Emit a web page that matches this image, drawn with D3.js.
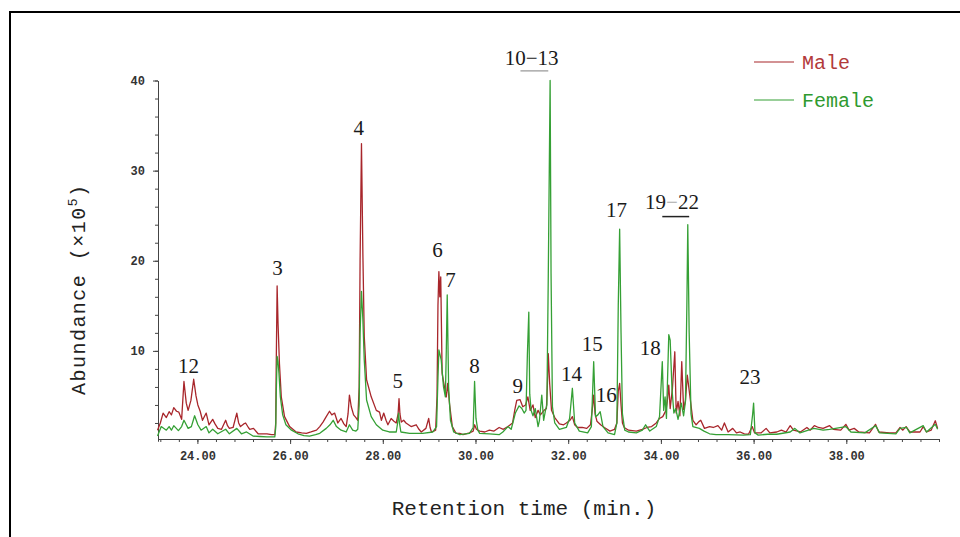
<!DOCTYPE html>
<html>
<head>
<meta charset="utf-8">
<script src="https://cdnjs.cloudflare.com/ajax/libs/d3/7.8.5/d3.min.js"></script>
<style>
  body { margin: 0; background: #fff; }
  svg { display: block; }
</style>
</head>
<body>
<script>
// retention time (min.) and abundance (x10^5)
var maleTrace = [[23.14,1.2],[23.2,2.0],[23.26,3.1],[23.33,2.6],[23.39,3.25],[23.44,2.9],[23.49,3.7],[23.55,3.3],[23.6,3.2],[23.66,2.4],[23.71,6.6],[23.76,4.2],[23.8,3.4],[23.86,4.5],[23.92,6.85],[23.97,5.0],[24.01,4.0],[24.06,3.3],[24.11,2.3],[24.19,3.1],[24.25,1.8],[24.33,2.4],[24.38,1.9],[24.44,1.4],[24.52,1.3],[24.61,2.3],[24.65,1.7],[24.69,1.4],[24.77,1.5],[24.85,3.1],[24.89,2.0],[24.93,1.6],[25.0,1.9],[25.04,2.0],[25.1,1.5],[25.13,1.3],[25.21,1.4],[25.31,0.8],[25.4,0.8],[25.5,0.8],[25.6,0.7],[25.67,0.7],[25.69,2.0],[25.7,8.0],[25.72,17.2],[25.74,13.0],[25.77,8.6],[25.81,4.9],[25.88,2.7],[25.99,1.6],[26.13,1.0],[26.25,0.9],[26.35,0.85],[26.45,1.0],[26.57,1.2],[26.64,1.6],[26.71,2.1],[26.78,2.7],[26.85,3.3],[26.9,2.9],[26.96,3.1],[27.03,2.0],[27.1,2.5],[27.16,1.9],[27.21,1.6],[27.25,3.0],[27.28,5.1],[27.32,3.8],[27.37,2.9],[27.42,2.6],[27.46,2.3],[27.49,6.0],[27.51,20.0],[27.54,33.0],[27.57,20.8],[27.6,11.6],[27.65,6.8],[27.75,4.9],[27.86,3.4],[27.93,3.2],[27.97,2.3],[28.02,3.1],[28.07,2.3],[28.11,1.8],[28.18,2.5],[28.24,2.2],[28.29,2.0],[28.33,3.0],[28.35,4.7],[28.37,3.0],[28.4,2.1],[28.45,2.3],[28.5,2.0],[28.61,1.6],[28.72,1.8],[28.78,1.3],[28.83,1.0],[28.93,1.4],[28.99,2.5],[29.02,1.5],[29.05,1.0],[29.1,1.1],[29.14,1.2],[29.17,5.0],[29.19,15.0],[29.21,18.8],[29.23,16.0],[29.25,18.2],[29.28,7.5],[29.33,6.0],[29.37,4.9],[29.4,6.4],[29.44,4.1],[29.5,1.6],[29.58,0.85],[29.66,0.85],[29.73,0.7],[29.87,0.9],[29.95,1.1],[29.98,1.8],[30.02,1.3],[30.09,1.1],[30.2,1.0],[30.3,1.2],[30.4,1.1],[30.51,1.5],[30.6,1.3],[30.7,1.6],[30.8,2.0],[30.85,3.5],[30.89,4.5],[30.96,4.6],[31.02,3.8],[31.08,4.0],[31.13,4.9],[31.18,3.4],[31.24,4.0],[31.29,2.6],[31.35,3.4],[31.4,2.9],[31.48,3.4],[31.53,3.6],[31.55,6.0],[31.57,9.7],[31.6,6.4],[31.64,3.4],[31.71,2.6],[31.81,1.9],[31.9,1.8],[31.96,2.0],[32.04,2.3],[32.09,2.7],[32.14,1.8],[32.2,1.5],[32.3,1.5],[32.4,1.4],[32.48,1.8],[32.52,3.5],[32.55,5.1],[32.58,3.0],[32.62,2.2],[32.7,1.8],[32.78,1.5],[32.9,1.1],[33.0,1.3],[33.05,2.0],[33.08,5.5],[33.11,6.4],[33.14,4.0],[33.17,2.0],[33.21,1.5],[33.3,1.2],[33.47,1.1],[33.6,1.3],[33.7,1.5],[33.8,1.6],[33.9,2.0],[33.97,2.5],[34.04,2.7],[34.11,3.4],[34.14,4.5],[34.17,6.2],[34.2,3.6],[34.25,5.9],[34.3,9.9],[34.33,3.1],[34.37,4.4],[34.41,2.8],[34.45,8.8],[34.49,3.5],[34.53,4.5],[34.57,7.3],[34.62,5.2],[34.69,2.3],[34.76,1.8],[34.82,2.15],[34.86,2.3],[34.94,1.4],[35.05,1.6],[35.13,1.5],[35.23,1.7],[35.31,1.2],[35.37,2.0],[35.45,1.0],[35.55,1.4],[35.63,0.9],[35.71,1.0],[35.8,0.8],[35.89,0.75],[35.97,1.6],[36.02,0.9],[36.16,0.9],[36.27,1.4],[36.35,0.9],[36.5,1.0],[36.6,1.2],[36.7,1.0],[36.79,1.7],[36.86,1.2],[37.01,1.0],[37.15,1.5],[37.22,1.2],[37.31,1.7],[37.4,1.5],[37.5,1.4],[37.64,1.7],[37.72,1.3],[37.88,1.2],[37.99,1.85],[38.06,1.2],[38.17,1.4],[38.27,1.0],[38.5,0.9],[38.63,1.85],[38.7,1.0],[38.93,0.9],[39.07,0.9],[39.16,1.5],[39.22,1.2],[39.29,1.6],[39.37,1.0],[39.59,1.0],[39.66,1.6],[39.73,1.0],[39.83,1.2],[39.92,2.25],[39.97,1.4]];

var femaleTrace = [[23.14,0.55],[23.22,1.6],[23.33,1.2],[23.39,1.6],[23.44,1.2],[23.49,1.7],[23.59,1.15],[23.66,1.6],[23.71,2.3],[23.76,1.8],[23.8,1.4],[23.87,1.6],[23.94,2.8],[24.01,1.8],[24.08,1.2],[24.19,1.6],[24.25,0.9],[24.33,1.3],[24.44,0.8],[24.61,1.3],[24.69,0.8],[24.85,1.4],[24.95,0.8],[25.06,1.0],[25.2,0.55],[25.35,0.5],[25.5,0.45],[25.67,0.45],[25.69,1.5],[25.7,5.0],[25.72,9.4],[25.74,8.8],[25.76,7.5],[25.79,4.9],[25.84,2.9],[25.91,1.8],[26.03,1.2],[26.17,0.8],[26.3,0.6],[26.42,0.55],[26.55,0.7],[26.64,0.85],[26.78,1.4],[26.86,1.8],[26.93,2.3],[27.0,1.6],[27.1,1.2],[27.21,1.0],[27.28,1.8],[27.35,1.2],[27.42,1.1],[27.46,1.3],[27.49,4.0],[27.51,12.0],[27.54,16.6],[27.57,13.5],[27.6,9.0],[27.65,4.55],[27.75,2.7],[27.86,1.8],[28.0,1.2],[28.14,1.0],[28.29,1.0],[28.32,2.0],[28.34,3.1],[28.36,2.0],[28.39,1.0],[28.58,0.85],[28.86,0.85],[29.08,1.0],[29.16,1.6],[29.19,7.0],[29.21,10.1],[29.26,9.0],[29.31,6.0],[29.35,4.9],[29.37,10.0],[29.39,16.2],[29.42,6.0],[29.46,2.3],[29.53,1.0],[29.66,0.7],[29.87,0.85],[29.95,1.5],[29.98,6.6],[30.01,2.5],[30.05,1.2],[30.09,0.85],[30.3,0.8],[30.51,0.7],[30.59,1.0],[30.7,1.6],[30.77,1.3],[30.86,3.1],[30.94,3.9],[31.0,3.6],[31.05,3.1],[31.09,3.4],[31.12,9.7],[31.15,14.3],[31.17,5.2],[31.2,3.4],[31.24,2.8],[31.29,3.6],[31.35,1.6],[31.38,2.3],[31.43,5.1],[31.47,2.3],[31.51,3.4],[31.54,4.0],[31.57,18.2],[31.61,40.0],[31.63,18.6],[31.66,3.8],[31.71,2.0],[31.81,1.3],[31.96,1.5],[32.03,2.5],[32.09,5.85],[32.14,2.0],[32.24,1.1],[32.42,0.9],[32.5,1.6],[32.55,8.8],[32.59,2.7],[32.64,2.9],[32.69,3.25],[32.75,1.6],[32.86,0.9],[33.0,0.7],[33.05,2.0],[33.08,15.0],[33.11,23.5],[33.14,12.0],[33.17,3.0],[33.22,1.2],[33.3,1.0],[33.47,0.9],[33.6,1.2],[33.67,1.8],[33.76,1.1],[33.9,1.6],[33.97,2.7],[34.03,8.8],[34.06,3.4],[34.09,4.9],[34.12,2.5],[34.17,11.8],[34.2,11.2],[34.24,5.7],[34.28,3.1],[34.32,3.6],[34.37,2.4],[34.44,4.2],[34.49,2.8],[34.53,4.4],[34.56,15.0],[34.58,24.0],[34.61,12.0],[34.65,3.0],[34.69,1.6],[34.83,1.4],[34.93,1.1],[35.05,0.8],[35.19,0.7],[35.45,0.7],[35.78,0.65],[35.93,0.7],[35.98,3.0],[36.0,4.2],[36.03,0.9],[36.1,0.65],[36.3,0.75],[36.5,0.75],[36.79,1.0],[36.89,1.4],[37.0,0.9],[37.3,1.4],[37.5,1.2],[37.64,1.3],[37.99,1.6],[38.1,1.0],[38.4,0.9],[38.63,1.7],[38.72,0.9],[39.07,0.8],[39.16,1.4],[39.3,1.5],[39.37,0.9],[39.66,1.7],[39.73,1.0],[39.92,1.85],[39.97,1.3]];

// peak numbers, anchored at (time, abundance) of their baseline
var peakLabels = [
  {text: "12", t: 23.81, v: 7.55},
  {text: "3", t: 25.73, v: 18.4},
  {text: "4", t: 27.48, v: 34.0},
  {text: "5", t: 28.32, v: 5.9},
  {text: "6", t: 29.18, v: 20.4},
  {text: "7", t: 29.46, v: 17.1},
  {text: "8", t: 29.98, v: 7.55},
  {text: "9", t: 30.91, v: 5.3},
  {text: "10−13", t: 31.21, v: 41.7},
  {text: "14", t: 32.07, v: 6.66},
  {text: "15", t: 32.52, v: 10.0},
  {text: "16", t: 32.82, v: 4.33},
  {text: "17", t: 33.04, v: 24.9},
  {text: "18", t: 33.77, v: 9.55},
  {text: "19−22", t: 34.24, v: 25.75},
  {text: "23", t: 35.92, v: 6.33}
];

// bars under the grouped peak numbers
var groupSpans = [
  {t0: 30.97, t1: 31.57, v: 41.07},
  {t0: 34.03, t1: 34.61, v: 24.9}
];

var xMajorTicks = [24, 26, 28, 30, 32, 34, 36, 38];
var yMajorTicks = [10, 20, 30, 40];
var seriesNames = ["Male", "Female"];

// size of the SVG
var width = 960;
var height = 537;

var colours = {Male: "#a8262b", Female: "#35a035"};
var textColours = {Male: "#b23a3a", Female: "#2f9a2f"};

var svg = d3.select("body")
            .append("svg")
            .attr("width", width)
            .attr("height", height);

svg.append("rect")
   .attr("width", width)
   .attr("height", height)
   .attr("fill", "#fff");

// outer frame, running off the right and bottom
svg.append("rect")
   .attr("x", 10)
   .attr("y", 12)
   .attr("width", 1000)
   .attr("height", 600)
   .attr("fill", "none")
   .attr("stroke", "#000")
   .attr("stroke-width", 2);

var xScale = d3.scaleLinear()
               .domain([23.15, 40.0])
               .range([158, 939]);
var yScale = d3.scaleLinear()
               .domain([0, 40])
               .range([441, 80.5]);

var axisY = 439;

// minor ticks every 0.4 min
var xMinor = d3.range(0, 43).map(function(i){ return +(23.2 + i * 0.4).toFixed(1); })
               .filter(function(t){ return t <= 40.0; });

var xAxisMinor = d3.axisBottom(xScale)
                   .tickValues(xMinor)
                   .tickSize(3)
                   .tickSizeOuter(0)
                   .tickFormat("");
var xAxis = d3.axisBottom(xScale)
              .tickValues(xMajorTicks)
              .tickSize(5)
              .tickSizeOuter(0)
              .tickFormat(d3.format(".2f"));

var gxm = svg.append("g")
             .attr("transform", "translate(0," + axisY + ")")
             .call(xAxisMinor);
var gx = svg.append("g")
            .attr("transform", "translate(0," + axisY + ")")
            .call(xAxis);

var yMinor = d3.range(2, 41, 2);
var yAxisMinor = d3.axisLeft(yScale)
                   .tickValues(yMinor)
                   .tickSize(3)
                   .tickSizeOuter(0)
                   .tickFormat("");
var yAxis = d3.axisLeft(yScale)
              .tickValues(yMajorTicks)
              .tickSize(5)
              .tickSizeOuter(0)
              .tickFormat(d3.format("d"));

var gym = svg.append("g")
             .attr("transform", "translate(158,0)")
             .call(yAxisMinor);
var gy = svg.append("g")
            .attr("transform", "translate(158,0)")
            .call(yAxis);

[gxm, gx, gym, gy].forEach(function(g){
  g.selectAll("path, line").attr("stroke", "#444");
});
gx.selectAll("text")
  .attr("dy", "1.1em")
  .style("font-family", "Liberation Mono")
  .style("font-weight", "bold")
  .style("font-size", "12px")
  .attr("fill", "#333");
gy.selectAll("text")
  .attr("x", -13)
  .style("font-family", "Liberation Mono")
  .style("font-weight", "bold")
  .style("font-size", "12px")
  .attr("fill", "#333");

// the two traces
var line = d3.line()
             .x(function(d){ return xScale(d[0]); })
             .y(function(d){ return yScale(d[1]); });

svg.append("path")
   .datum(maleTrace)
   .attr("d", line)
   .attr("fill", "none")
   .attr("stroke", colours.Male)
   .attr("stroke-width", 1.3)
   .attr("stroke-linejoin", "round");

svg.append("path")
   .datum(femaleTrace)
   .attr("d", line)
   .attr("fill", "none")
   .attr("stroke", colours.Female)
   .attr("stroke-width", 1.3)
   .attr("stroke-linejoin", "round");

// peak numbers
var dashColours = {"10−13": "#222", "19−22": "#aaa"};
peakLabels.forEach(function(p){
  var t = svg.append("text")
             .attr("x", xScale(p.t))
             .attr("y", yScale(p.v))
             .attr("text-anchor", "middle")
             .style("font-family", "Liberation Serif")
             .style("font-size", "21px")
             .attr("fill", "#1a1a1a");
  var parts = p.text.split("−");
  if (parts.length == 1) {
    t.text(p.text);
  } else {
    t.append("tspan").text(parts[0]);
    t.append("tspan").attr("fill", dashColours[p.text]).text("−");
    t.append("tspan").text(parts[1]);
  }
});

var spanColours = ["#aaa", "#222"];
svg.selectAll(".span")
   .data(groupSpans)
   .enter()
   .append("line")
   .attr("x1", function(d){ return xScale(d.t0); })
   .attr("x2", function(d){ return xScale(d.t1); })
   .attr("y1", function(d){ return yScale(d.v); })
   .attr("y2", function(d){ return yScale(d.v); })
   .attr("stroke", function(d, i){ return spanColours[i]; })
   .attr("stroke-width", 1.5);

// legend
var legend = svg.selectAll(".legend")
                .data(seriesNames)
                .enter()
                .append("g")
                .attr("transform", function(d, i){
                  return "translate(754," + (62 + i * 38) + ")";
                });
legend.append("line")
      .attr("x1", 0)
      .attr("x2", 40)
      .attr("stroke", function(d){ return colours[d]; })
      .attr("stroke-width", 1.2);
legend.append("text")
      .attr("x", 48)
      .attr("y", 7)
      .style("font-family", "Liberation Mono")
      .style("font-size", "20px")
      .attr("fill", function(d){ return textColours[d]; })
      .text(function(d){ return d; });

// axis titles
svg.append("text")
   .attr("x", 524)
   .attr("y", 515)
   .attr("text-anchor", "middle")
   .style("font-family", "Liberation Mono")
   .style("font-size", "21px")
   .attr("fill", "#222")
   .text("Retention time (min.)");

var yTitle = svg.append("text")
                .attr("transform", "translate(85,290) rotate(-90)")
                .attr("text-anchor", "middle")
                .attr("textLength", 210)
                .attr("lengthAdjust", "spacing")
                .style("font-family", "Liberation Mono")
                .style("font-size", "20px")
                .attr("fill", "#222");
yTitle.append("tspan").text("Abundance (×10");
yTitle.append("tspan").attr("dy", -8).style("font-size", "13px").text("5");
yTitle.append("tspan").attr("dy", 8).text(")");
</script>
</body>
</html>
